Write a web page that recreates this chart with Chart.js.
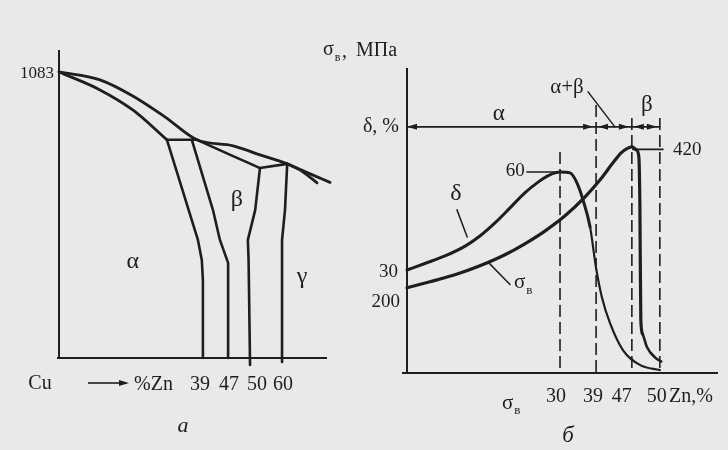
<!DOCTYPE html>
<html>
<head>
<meta charset="utf-8">
<script src="https://cdn.jsdelivr.net/npm/chart.js@4.4.1/dist/chart.umd.min.js"></script>
<style>
  html, body { margin: 0; padding: 0; background: #e9e9e9; }
  #wrap { position: relative; width: 728px; height: 450px; overflow: hidden; }
  canvas { position: absolute; top: 0; }
  #left { left: 0; }
  #right { left: 315px; }
</style>
</head>
<body>
<div id="wrap">
  <canvas id="left" width="345" height="450"></canvas>
  <canvas id="right" width="413" height="450"></canvas>
</div>
<script>
// ---- panel а: Cu–Zn phase diagram (x = % Zn, y = temperature) ----
const liquidusZn = [0, 11.1, 20.0, 28.7, 37.4, 47.7, 53.1, 61.4, 67.6, 73.0];
const liquidusT  = [1083, 1053, 992, 913, 826, 803, 769, 735, 697, 665];
const solidusZn  = [0, 11.1, 20.0, 29.25];
const solidusT   = [1083, 1015, 939, 826];
const betaLowZn  = [37.4, 47.3, 53.1];
const betaLowT   = [826, 769, 719];
const gammaLowZn = [61.4, 65.7, 69.5];
const gammaLowT  = [735, 704, 663];
const tie1Zn = [29.25, 37.4], tie1T = [826, 826];
const tie2Zn = [53.1, 61.4],  tie2T = [719, 735];
const bound1Zn = [29.25, 37.65, 38.7, 39, 39], bound1T = [826, 447, 371, 295, 0];
const bound2Zn = [36.0, 42.2, 44.4, 47, 47],   bound2T = [826, 560, 447, 360, 0];
const bound3Zn = [53.1, 51.6, 49.7, 49.8, 50], bound3T = [719, 560, 447, 371, -26];
const bound4Zn = [61.4, 60.8, 60, 60],         bound4T = [735, 560, 447, -15];
const meltCu = 1083;
const leftTicks = [39, 47, 50, 60];
const phaseNames = ['α', 'β', 'γ'];
const phaseZn = [20, 48.2, 65.4];
const phaseT = [364, 598, 307];

// ---- panel б: properties vs % Zn ----
const deltaZn  = [0, 3.5, 7.45, 11.4, 14.3, 17.25, 20.2, 23.1, 25.7, 27.6, 29.2, 30, 32.5, 34.25, 35.75, 37.5, 39, 40.3, 42.1, 45.0, 47.9, 50];
const deltaVal = [30, 32.0, 34.3, 37.3, 40.4, 44.4, 49.0, 53.6, 56.9, 58.8, 59.8, 60, 59.7, 56.6, 51.4, 43.2, 30.6, 21.7, 13.8, 5.5, 0.9, -0.6];
const sigmaZn  = [0, 4.5, 9.4, 14.3, 19.2, 23.1, 27.1, 31.25, 36.25, 39.9, 42.6, 44.6, 46.0, 47.0, 47.5, 47.75, 47.86, 47.96, 48.15, 48.6, 49.5, 50.3];
const sigmaVal = [200, 209.4, 220.3, 234.3, 251.5, 268.6, 288.9, 312.3, 341.9, 368.5, 393.4, 410.6, 417.6, 420, 415, 404, 330, 150, 128, 108, 91, 85];
const zoneEdges = [0, 39, 47, 50];          // α | α+β | β
const zoneNames = ['α', 'α+β', 'β'];
const boundZn = [30, 39, 47, 50];
const boundTop = [66.1, 80.5, 76.5, 76.5];  // δ units
const rightTicks = [30, 39, 47, 50];
const deltaStart = 30, sigmaStart = 200;
const deltaPeak = 60, sigmaPeak = 420;
const zoneRow = 73.8;

const INK = '#1e1e1e';
const FONT = '"Liberation Serif", "DejaVu Serif", serif';
const OFF_B = 315;

// schematic, non-uniform Zn axes of the original figure
function piecewiseScale(id, vals, fracs) {
  class S extends Chart.LinearScale {
    getPixelForValue(v) {
      if (v === null || v === undefined || isNaN(v)) return NaN;
      let i = 1;
      while (i < vals.length - 1 && v > vals[i]) i++;
      const t = (v - vals[i - 1]) / (vals[i] - vals[i - 1]);
      return this.getPixelForDecimal(fracs[i - 1] + t * (fracs[i] - fracs[i - 1]));
    }
    getValueForPixel(p) {
      const d = this.getDecimalForPixel(p);
      let i = 1;
      while (i < fracs.length - 1 && d > fracs[i]) i++;
      const t = (d - fracs[i - 1]) / (fracs[i] - fracs[i - 1]);
      return vals[i - 1] + t * (vals[i] - vals[i - 1]);
    }
  }
  S.id = id;
  S.defaults = {};
  Chart.register(S);
}
piecewiseScale('znA', [0, 39, 47, 50, 60, 73], [0, 0.531, 0.624, 0.705, 0.823, 1]);
piecewiseScale('znB', [0, 30, 39, 47, 50, 63], [0, 0.492, 0.608, 0.723, 0.813, 1]);

const pts = (xs, ys) => xs.map((x, i) => ({ x, y: ys[i] }));
const line = (xs, ys, extra) => Object.assign({
  data: pts(xs, ys), borderColor: INK, borderWidth: 2.6, pointRadius: 0,
  fill: false, tension: 0, clip: false, borderCapStyle: 'round', borderJoinStyle: 'round'
}, extra);

function text(ctx, s, x, y, size, align, italic) {
  ctx.font = (italic ? 'italic ' : '') + size + 'px ' + FONT;
  ctx.textAlign = align || 'center';
  ctx.textBaseline = 'middle';
  ctx.fillStyle = INK;
  ctx.fillText(s, x, y);
}
function sigmaB(ctx, x, y, size) {
  text(ctx, 'σ', x, y, size, 'left');
  const w = ctx.measureText('σ').width;
  text(ctx, 'в', x + w + 1, y + size * 0.38, Math.round(size * 0.6), 'left');
}
function head(ctx, x, y, dir, len, half) {
  ctx.beginPath();
  ctx.moveTo(x, y);
  ctx.lineTo(x - dir * len, y - half);
  ctx.lineTo(x - dir * len, y + half);
  ctx.closePath();
  ctx.fillStyle = INK;
  ctx.fill();
}
function seg(ctx, x1, y1, x2, y2, w) {
  ctx.beginPath();
  ctx.moveTo(x1, y1);
  ctx.lineTo(x2, y2);
  ctx.lineWidth = w;
  ctx.strokeStyle = INK;
  ctx.stroke();
}

const commonOpts = {
  responsive: false, animation: false, events: [],
  plugins: { legend: { display: false }, tooltip: { enabled: false } }
};

// ---- panel а ----
const leftDecor = {
  id: 'leftDecor',
  afterDraw(chart) {
    const { ctx, chartArea: a, scales: { x, y } } = chart;
    ctx.save();
    seg(ctx, a.left, a.top, a.left, a.bottom + 1, 2);
    seg(ctx, a.left - 2, a.bottom, a.right - 3, a.bottom, 2);
    text(ctx, String(meltCu), a.left - 5, y.getPixelForValue(meltCu) + 2, 17, 'right');
    const ty = a.bottom + 26;
    text(ctx, 'Cu', 40, ty, 20);
    seg(ctx, 88, ty - 1, 120, ty - 1, 1.6);
    head(ctx, 129, ty - 1, 1, 10, 3);
    text(ctx, '%Zn', 134, ty + 1, 20, 'left');
    const nudge = [-3, 1, 7, 1];
    leftTicks.forEach((v, i) => text(ctx, String(v), x.getPixelForValue(v) + nudge[i], ty + 1, 20));
    phaseNames.forEach((s, i) => text(ctx, s, x.getPixelForValue(phaseZn[i]), y.getPixelForValue(phaseT[i]), 24));
    text(ctx, 'а', 183, 426, 22, 'center', true);
    ctx.restore();
  }
};

new Chart(document.getElementById('left'), {
  type: 'line',
  data: {
    datasets: [
      line(liquidusZn, liquidusT, { cubicInterpolationMode: 'monotone', borderWidth: 2.8 }),
      line(solidusZn, solidusT, { cubicInterpolationMode: 'monotone', borderWidth: 2.8 }),
      line(betaLowZn, betaLowT, { cubicInterpolationMode: 'monotone' }),
      line(gammaLowZn, gammaLowT, { cubicInterpolationMode: 'monotone' }),
      line(tie1Zn, tie1T),
      line(tie2Zn, tie2T),
      line(bound1Zn, bound1T),
      line(bound2Zn, bound2T),
      line(bound3Zn, bound3T),
      line(bound4Zn, bound4T)
    ]
  },
  options: Object.assign({}, commonOpts, {
    layout: { padding: { left: 59, right: 15, top: 50, bottom: 92 } },
    scales: {
      x: { type: 'znA', min: 0, max: 73, display: false },
      y: { type: 'linear', min: 0, max: 1166, display: false }
    }
  }),
  plugins: [leftDecor]
});

// ---- panel б ----
const rightDecor = {
  id: 'rightDecor',
  afterDraw(chart) {
    const { ctx, chartArea: a, scales: { x, yd, ys } } = chart;
    const P = v => v - OFF_B;
    ctx.save();
    seg(ctx, a.left, a.top, a.left, a.bottom, 2);
    seg(ctx, a.left - 5, a.bottom, a.right, a.bottom, 2);

    // axis titles
    sigmaB(ctx, P(323), 50, 20);
    text(ctx, ',', P(342), 52, 20, 'left');
    text(ctx, 'МПа', P(356), 51, 20, 'left');
    text(ctx, 'δ, %', a.left - 8, yd.getPixelForValue(zoneRow), 20, 'right');
    text(ctx, String(deltaStart), a.left - 9, yd.getPixelForValue(deltaStart) + 2, 19, 'right');
    text(ctx, String(sigmaStart), a.left - 7, ys.getPixelForValue(sigmaStart) + 14, 19, 'right');

    // structure zones with arrows
    const ry = yd.getPixelForValue(zoneRow);
    for (let i = 0; i < zoneNames.length; i++) {
      const x0 = x.getPixelForValue(zoneEdges[i]) + (i ? 2 : 0);
      const x1 = x.getPixelForValue(zoneEdges[i + 1]) - 3;
      head(ctx, x0, ry, -1, 10, 3);
      head(ctx, x1, ry, 1, 10, 3);
    }
    text(ctx, zoneNames[0], x.getPixelForValue(18), ry - 13, 23);
    text(ctx, zoneNames[1], P(567), 87, 21);
    text(ctx, zoneNames[2], (x.getPixelForValue(47) + x.getPixelForValue(50)) / 2 + 1, ry - 22, 23);

    // peak values
    text(ctx, String(deltaPeak), x.getPixelForValue(23.5) - 2, yd.getPixelForValue(deltaPeak) - 1, 19, 'right');
    text(ctx, String(sigmaPeak), x.getPixelForValue(50.7) + 10, ys.getPixelForValue(sigmaPeak) + 3, 19, 'left');

    // curve names
    text(ctx, 'δ', x.getPixelForValue(9.6), yd.getPixelForValue(48.4) - 16, 24);
    sigmaB(ctx, x.getPixelForValue(20.2) + 4, ys.getPixelForValue(205) - 2, 21);

    // bottom tick labels
    const by = a.bottom + 24;
    const nudge = [-4, -3, -10, -3];
    rightTicks.forEach((v, i) => text(ctx, String(v), x.getPixelForValue(v) + nudge[i], by, 20));
    text(ctx, 'Zn,%', P(669), by, 20, 'left');
    sigmaB(ctx, P(502), a.bottom + 30, 21);
    text(ctx, 'б', P(568), 436, 23, 'center', true);
    ctx.restore();
  }
};

const boundaryLines = boundZn.map((b, i) => line([b, b], [boundTop[i], -1.5], {
  yAxisID: 'yd', borderWidth: 1.6, borderDash: [12, 5], borderCapStyle: 'butt'
}));

new Chart(document.getElementById('right'), {
  type: 'line',
  data: {
    datasets: [
      line(deltaZn, deltaVal, {
        yAxisID: 'yd', cubicInterpolationMode: 'monotone', borderWidth: 3,
        segment: { borderWidth: c => c.p0.parsed.x >= 37 ? 2.2 : 3 }
      }),
      line(sigmaZn, sigmaVal, {
        yAxisID: 'ys', cubicInterpolationMode: 'monotone', borderWidth: 3.2,
        segment: { borderWidth: c => c.p0.parsed.x >= 48 ? 2.6 : 3.2 }
      }),
      ...boundaryLines,
      line([zoneEdges[0], zoneEdges[3]], [zoneRow, zoneRow], { yAxisID: 'yd', borderWidth: 1.6 }),
      line([23.5, 30], [deltaPeak, deltaPeak], { yAxisID: 'yd', borderWidth: 1.6 }),
      line([47.1, 50.7], [sigmaPeak - 4, sigmaPeak - 4], { yAxisID: 'ys', borderWidth: 1.6 }),
      line([9.8, 11.8], [48.4, 40.1], { yAxisID: 'yd', borderWidth: 1.5 }),
      line([15.9, 20.2], [240, 205], { yAxisID: 'ys', borderWidth: 1.5 }),
      line([37, 43.2], [84.5, zoneRow], { yAxisID: 'yd', borderWidth: 1.5 })
    ]
  },
  options: Object.assign({}, commonOpts, {
    layout: { padding: { left: 92, right: 10, top: 68, bottom: 77 } },
    scales: {
      x: { type: 'znB', min: 0, max: 63, display: false },
      yd: { type: 'linear', position: 'left', min: -1.5, max: 91.8, display: false },
      ys: { type: 'linear', position: 'left', min: 67, max: 543, display: false }
    }
  }),
  plugins: [rightDecor]
});
</script>
</body>
</html>
